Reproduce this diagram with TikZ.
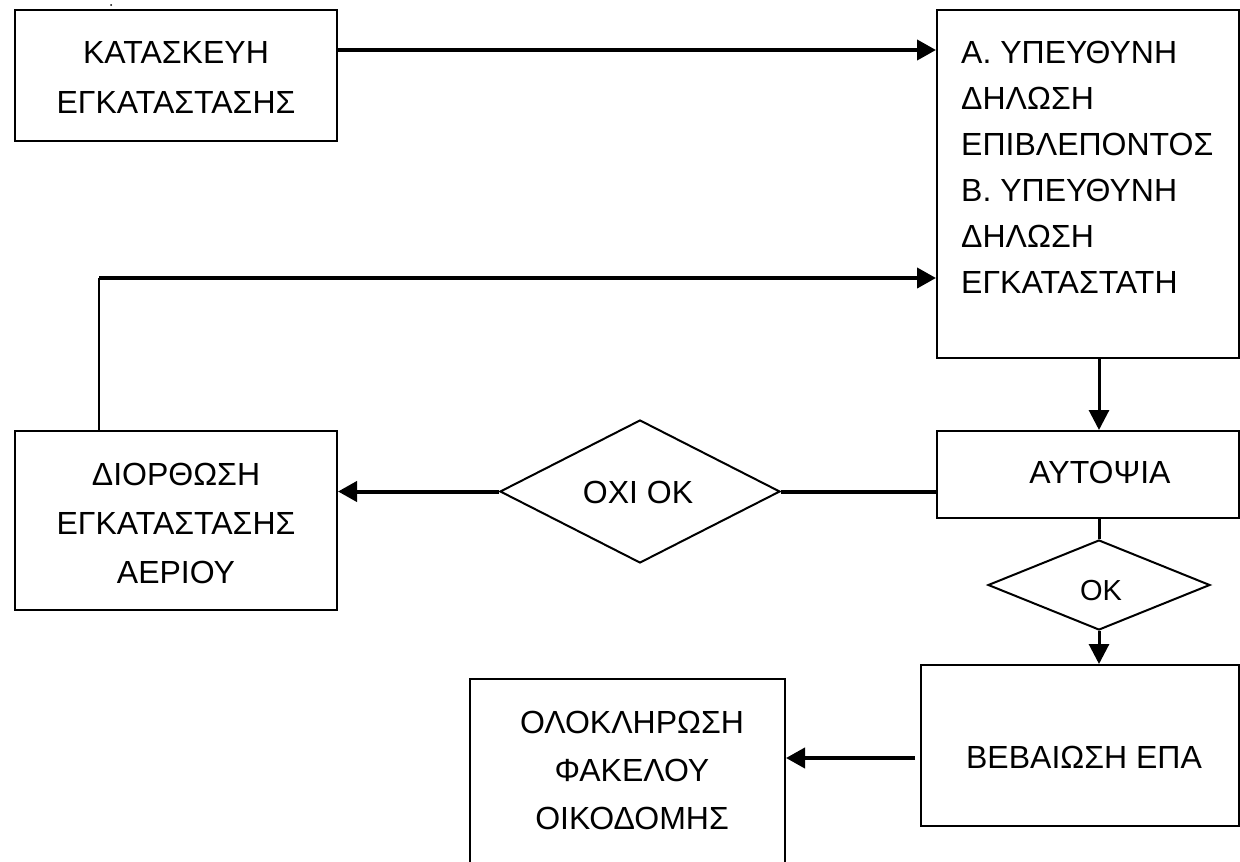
\documentclass[tikz,border=0pt]{standalone}
\usepackage{fontspec}
\setmainfont{Liberation Sans}
\usetikzlibrary{arrows.meta,shapes.geometric}
\tikzset{
  boxnode/.style={draw, line width=2pt, rectangle, inner sep=0pt},
  txt/.style={inner sep=0pt, align=center, font=\fontsize{32}{#1}\selectfont},
  txt/.default=50,
  dia/.style={draw, line width=2pt, diamond, inner sep=0pt, aspect=2},
  arr/.style={line width=4pt, -{Triangle[length=19pt,width=20pt]}},
  arrmid/.style={line width=3pt, -{Triangle[length=20pt,width=20pt]}},
  plain/.style={line width=4pt},
  thinl/.style={line width=2pt},
}
\begin{document}
\begin{tikzpicture}[x=1pt,y=-1pt]
\useasboundingbox (0,0) rectangle (1240,862);
\fill[white] (0,0) rectangle (1240,862);
% stray dot
\fill (111,5) circle (1pt);
% boxes
\node[boxnode, minimum width=322pt, minimum height=131pt] (b1) at (176,75.5) {};
\node[txt] (t1) at (176,77) {ΚΑΤΑΣΚΕΥΗ\\ΕΓΚΑΤΑΣΤΑΣΗΣ};
\node[boxnode, minimum width=302pt, minimum height=348pt] (b2) at (1088,184) {};
\node[txt=46, anchor=north west, align=left] (b2t) at (961,41)
  {Α. ΥΠΕΥΘΥΝΗ\\ΔΗΛΩΣΗ\\ΕΠΙΒΛΕΠΟΝΤΟΣ\\Β. ΥΠΕΥΘΥΝΗ\\ΔΗΛΩΣΗ\\ΕΓΚΑΤΑΣΤΑΤΗ};
\node[boxnode, minimum width=322pt, minimum height=179pt] (dio) at (176,520.5) {};
\node[txt=49] (tdio) at (176,523.5) {ΔΙΟΡΘΩΣΗ\\ΕΓΚΑΤΑΣΤΑΣΗΣ\\ΑΕΡΙΟΥ};
\node[boxnode, minimum width=302pt, minimum height=87pt] (aut) at (1088,474.5) {};
\node[txt] (taut) at (1100,472.5) {ΑΥΤΟΨΙΑ};
\node[dia, minimum width=280pt, minimum height=143pt] (nok) at (640,491.5) {};
\node[txt] (tnok) at (638,492) {ΟΧΙ ΟΚ};
\node[dia, minimum width=222pt, minimum height=90pt] (ok) at (1099,585) {};
\node[txt] (tok) at (1101,591) {\fontsize{29}{30}\selectfont ΟΚ};
\node[boxnode, minimum width=318pt, minimum height=161pt] (beb) at (1080,745.5) {};
\node[txt] (tbeb) at (1084,757) {ΒΕΒΑΙΩΣΗ ΕΠΑ};
\node[boxnode, minimum width=315pt, minimum height=194pt] (olo) at (627.5,776) {};
\node[txt=48] (tolo) at (632,770) {ΟΛΟΚΛΗΡΩΣΗ\\ΦΑΚΕΛΟΥ\\ΟΙΚΟΔΟΜΗΣ};
% connectors
\draw[arr] ([yshift=25.5pt]b1.east) coordinate (a1) -- (a1 -| b2.west);
\coordinate (c2) at (99,278);
\draw[thinl] (dio.north -| c2) -- (c2);
\draw[arr] (c2) -- (c2 -| b2.west);
\draw[arrmid] (b2.south -| ok) -- (aut.north -| ok);
\draw[plain] (aut.west |- nok) -- (nok.east);
\draw[arr] (nok.west) -- (dio.east |- nok);
\draw[line width=3pt] (aut.south -| ok) -- (ok.north);
\draw[arrmid] (ok.south) -- (beb.north -| ok);
\coordinate (c3) at (915,758);
\draw[arr] (c3) -- (olo.east |- c3);
\end{tikzpicture}
\end{document}
